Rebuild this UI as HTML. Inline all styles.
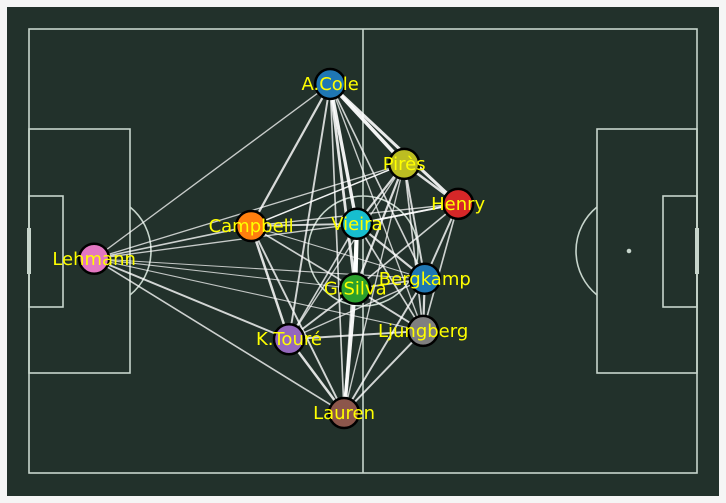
<!DOCTYPE html>
<html><head><meta charset="utf-8"><style>
html,body{margin:0;padding:0;background:#f5f5f5;}
svg{display:block;}
</style></head><body>
<svg id="chart" width="726" height="503" xmlns="http://www.w3.org/2000/svg">
<rect x="7" y="7" width="712" height="489" fill="#22312b"/>
<g id="pitch" fill="none" stroke="#c7d5cc" stroke-width="1.6">
<rect x="29" y="29" width="668" height="444"/>
<line x1="363" y1="29" x2="363" y2="473"/>
<circle cx="363" cy="251" r="55"/>
<rect x="29" y="129" width="101" height="244"/>
<rect x="29" y="196" width="34" height="111"/>
<line x1="29" y1="228" x2="29" y2="274" stroke-width="4"/>
<path d="M130 207 A56.6 56.6 0 0 1 130 295"/>
<rect x="597" y="129" width="100" height="244"/>
<rect x="663" y="196" width="34" height="111"/>
<line x1="697" y1="228" x2="697" y2="274" stroke-width="4"/>
<path d="M597 207 A56.6 56.6 0 0 0 597 295"/>
<circle cx="629" cy="251" r="1.5" fill="#c7d5cc"/>
</g>
<g id="edges"></g>
<g id="nodes"></g>
</svg>
<script>
const players = ["A.Cole","Pirès","Henry","Campbell","Vieira","Lehmann","Bergkamp","G.Silva","Ljungberg","K.Touré","Lauren"];
const avgX = [54.1,67.4,77.1,39.9,58.9,11.7,71.1,58.6,70.8,46.7,56.6];
const avgY = [9.9,24.3,31.5,35.5,35.1,41.4,45.0,46.8,54.4,55.9,69.2];
const colors = ["#1f77b4","#bcbd22","#d62728","#ff7f0e","#17becf","#e377c2","#1f77b4","#2ca02c","#7f7f7f","#9467bd","#8c564b"];
const passFrom = [0,0,1,0,0,0,0,0,0,0,0,5,5,5,5,5,5,5,5,3,3,3,3,3,3,3,4,4,4,4,4,4,4,1,1,1,1,1,1,2,2,2,2,7,7,7,7,6,6,6,8,8,9];
const passTo   = [1,2,2,3,4,5,6,7,8,9,10,3,4,9,10,7,6,1,8,4,9,10,7,1,2,6,7,10,1,2,6,8,9,7,8,6,10,9,3,6,7,8,4,10,8,9,6,8,10,9,9,10,10];
const passCount= [10,8,6,5,9,2,3,7,2,4,3,3,2,4,3,1,1,2,1,4,6,4,3,2,2,1,12,4,5,4,5,3,3,5,3,4,2,2,2,4,3,3,3,10,4,4,3,5,4,2,4,4,6];
const X0=29,X1=697,Y0=29,Y1=473;
function sx(v){return X0+v*(X1-X0)/120;}
function sy(v){return Y0+v*(Y1-Y0)/80;}
const NS="http://www.w3.org/2000/svg";
const eg=document.getElementById('edges');
const maxC=Math.max(...passCount);
for(let i=0;i<passFrom.length;i++){
  const a=passFrom[i],b=passTo[i];
  const l=document.createElementNS(NS,'line');
  l.setAttribute('x1',sx(avgX[a]));l.setAttribute('y1',sy(avgY[a]));
  l.setAttribute('x2',sx(avgX[b]));l.setAttribute('y2',sy(avgY[b]));
  l.setAttribute('stroke','#ffffff');
  l.setAttribute('stroke-opacity',0.7+0.3*passCount[i]/maxC);
  l.setAttribute('stroke-width',0.8+3.4*passCount[i]/maxC);
  
  
  eg.appendChild(l);
}
const ng=document.getElementById('nodes');
for(let i=0;i<players.length;i++){
  const c=document.createElementNS(NS,'circle');
  c.setAttribute('cx',sx(avgX[i]));c.setAttribute('cy',sy(avgY[i]));c.setAttribute('r',15);
  c.setAttribute('fill',colors[i]);c.setAttribute('stroke','#000');c.setAttribute('stroke-width',2.5);
  
  
  ng.appendChild(c);
}
for(let i=0;i<players.length;i++){
  const t=document.createElementNS(NS,'text');
  t.setAttribute('x',sx(avgX[i]));t.setAttribute('y',sy(avgY[i])+6);
  t.setAttribute('text-anchor','middle');t.setAttribute('fill','#ffff00');
  t.setAttribute('font-family','"DejaVu Sans","Liberation Sans",sans-serif');t.setAttribute('font-size','18');
  t.textContent=players[i];
  
  
  ng.appendChild(t);
}
</script>
</body></html>
